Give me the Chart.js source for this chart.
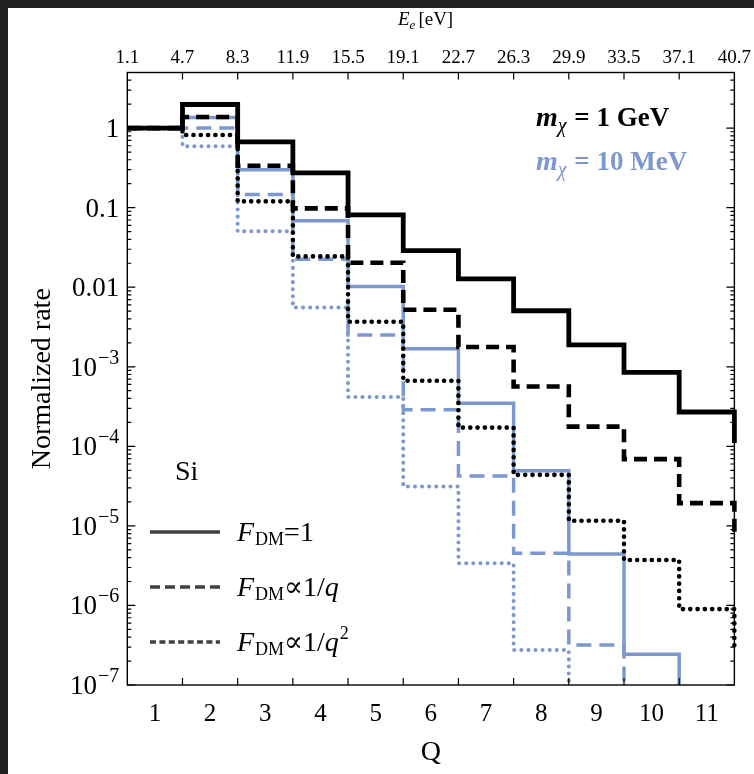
<!DOCTYPE html>
<html>
<head>
<meta charset="utf-8">
<script src="https://cdn.jsdelivr.net/npm/chart.js@4.4.1/dist/chart.umd.min.js"></script>
<style>
  html, body { margin: 0; padding: 0; background: #222; }
  #wrap { position: absolute; left: 8px; top: 8px; width: 746px; height: 766px; background: #fff; }
</style>
</head>
<body>
<div id="wrap"><canvas id="rate" width="746" height="766"></canvas></div>
<script>
// bins Q (the 12th bin lies past the plot, only its drop at the right edge shows)
const qBins = [1, 2, 3, 4, 5, 6, 7, 8, 9, 10, 11, 12];
const energyEdges = ['1.1', '4.7', '8.3', '11.9', '15.5', '19.1', '22.7', '26.3', '29.9', '33.5', '37.1', '40.7'];
const yTickValues = [1, 0.1, 0.01, 1e-3, 1e-4, 1e-5, 1e-6, 1e-7];
const yTickLabels = ['1', '0.1', '0.01', '10^-3', '10^-4', '10^-5', '10^-6', '10^-7'];

// m_chi = 1 GeV
const gevConst = [1, 1.98, 0.67, 0.273, 0.081, 0.0288, 0.0127, 0.00506, 0.00189, 8.5e-4, 2.7e-4, 1.1e-4];
const gevInvQ = [1, 1.38, 0.337, 0.098, 0.0203, 0.00521, 0.00177, 5.65e-4, 1.77e-4, 6.9e-5, 1.93e-5, 7.3e-6];
const gevInvQ2 = [1, 0.82, 0.12, 0.0244, 0.00368, 6.67e-4, 1.72e-4, 4.38e-5, 1.16e-5, 3.73e-6, 9.0e-7, 3.0e-7];
// m_chi = 10 MeV
const mevConst = [1, 1.36, 0.30, 0.0686, 0.0102, 0.00168, 3.49e-4, 4.92e-5, 4.44e-6, 2.43e-7, 2e-8, 1e-9];
const mevInvQ = [1, 1.0, 0.146, 0.0225, 0.0025, 2.88e-4, 4.25e-5, 4.54e-6, 3.18e-7, 2e-8, 1e-9, 5e-11];
const mevInvQ2 = [1, 0.59, 0.0504, 0.00557, 4.16e-4, 3.12e-5, 3.4e-6, 2.75e-7, 2e-8, 1e-9, 5e-11, 2e-12];

const SERIF = '"Liberation Serif", "DejaVu Serif", serif';
const BLUE = 'rgb(125,152,207)';

// each bin starts at its left edge, stepped line runs across to the next edge
function steps(values) {
  return values.map((v, i) => ({ x: qBins[i] - 0.5, y: v }));
}

function series(values, color, width, dash, cap) {
  return {
    data: steps(values),
    borderColor: color,
    borderWidth: width,
    borderDash: dash,
    borderCapStyle: cap,
    borderJoinStyle: 'miter',
    stepped: 'before',
    pointRadius: 0,
    fill: false,
    clip: { left: 0, top: 0, right: 3, bottom: 0 }
  };
}

function rich(ctx, x, y, parts) {
  parts.forEach(p => {
    ctx.font = p.font;
    ctx.fillStyle = p.color || '#000';
    ctx.fillText(p.t, x, y + (p.dy || 0));
    x += ctx.measureText(p.t).width + (p.gap || 0);
  });
}

const frame = {
  id: 'frame',
  afterDatasetsDraw(chart) {
    const { ctx, chartArea: a, scales: { x, y } } = chart;
    ctx.save();
    ctx.strokeStyle = '#000';
    ctx.lineWidth = 1.4;
    ctx.strokeRect(a.left, a.top, a.right - a.left, a.bottom - a.top);
    ctx.lineWidth = 1.2;
    ctx.beginPath();
    qBins.slice(0, 10).forEach(q => {
      const px = x.getPixelForValue(q + 0.5);
      ctx.moveTo(px, a.bottom); ctx.lineTo(px, a.bottom - 7);
      ctx.moveTo(px, a.top); ctx.lineTo(px, a.top + 7);
    });
    for (let e = -7; e <= 0; e++) {
      for (let k = 1; k <= 9; k++) {
        const v = k * Math.pow(10, e);
        if (v > y.max) break;
        const py = y.getPixelForValue(v);
        const len = k === 1 ? 8 : 4;
        ctx.moveTo(a.left, py); ctx.lineTo(a.left + len, py);
        ctx.moveTo(a.right, py); ctx.lineTo(a.right - len, py);
      }
    }
    ctx.stroke();

    // y tick labels with superscripts
    ctx.fillStyle = '#000';
    ctx.textBaseline = 'alphabetic';
    yTickValues.forEach((v, i) => {
      const py = y.getPixelForValue(v);
      const [base, exp] = yTickLabels[i].split('^');
      const baseline = py + 9;
      let right = a.left - 8;
      ctx.textAlign = 'right';
      if (exp) {
        const sup = exp.replace('-', '\u2212');
        ctx.font = `20px ${SERIF}`;
        ctx.fillText(sup, right, baseline - 12);
        right -= ctx.measureText(sup).width + 1;
      }
      ctx.font = `27px ${SERIF}`;
      ctx.fillText(base, right, baseline);
    });

    ctx.textAlign = 'left';
    // top axis title
    rich(ctx, 390, 17, [
      { t: 'E', font: `italic 19px ${SERIF}` },
      { t: 'e', font: `italic 13px ${SERIF}`, dy: 4, gap: 3 },
      { t: '[eV]', font: `19px ${SERIF}` }
    ]);

    // mass labels
    [['1 GeV', '#000', 118], ['10 MeV', BLUE, 162]].forEach(([txt, col, yb]) => {
      rich(ctx, 528, yb, [
        { t: 'm', font: `bold italic 28px ${SERIF}`, color: col },
        { t: '\u03c7', font: `italic 20px ${SERIF}`, color: col, dy: 6, gap: 1 },
        { t: ' = ' + txt, font: `bold 27px ${SERIF}`, color: col }
      ]);
    });

    // material
    ctx.font = `28px ${SERIF}`;
    ctx.fillStyle = '#000';
    ctx.fillText('Si', 167, 472);

    // legend
    const rows = [
      { yl: 524, dash: [], tail: [{ t: '=1', font: `28px ${SERIF}` }] },
      { yl: 579, dash: [10, 5], tail: [{ t: '\u221d1/', font: `28px ${SERIF}` }, { t: 'q', font: `italic 28px ${SERIF}` }] },
      { yl: 634, dash: [6, 3.4], tail: [{ t: '\u221d1/', font: `28px ${SERIF}` }, { t: 'q', font: `italic 28px ${SERIF}`, gap: 1 }, { t: '2', font: `18px ${SERIF}`, dy: -12 }] }
    ];
    rows.forEach(r => {
      ctx.strokeStyle = '#404040';
      ctx.lineWidth = 3.5;
      ctx.setLineDash(r.dash);
      ctx.beginPath();
      ctx.moveTo(142, r.yl); ctx.lineTo(212, r.yl);
      ctx.stroke();
      ctx.setLineDash([]);
      rich(ctx, 229, r.yl + 8.5, [
        { t: 'F', font: `italic 28px ${SERIF}`, gap: 1 },
        { t: 'DM', font: `18px ${SERIF}`, dy: 4 }
      ].concat(r.tail));
    });
    ctx.restore();
  }
};

new Chart(document.getElementById('rate'), {
  type: 'line',
  data: {
    datasets: [
      series(gevConst, '#000', 4.8, [], 'butt'),
      series(gevInvQ, '#000', 4.6, [13, 7], 'butt'),
      series(gevInvQ2, '#000', 4.6, [0.1, 7.2], 'round'),
      series(mevConst, BLUE, 3.5, [], 'butt'),
      series(mevInvQ, BLUE, 3.5, [15, 8], 'butt'),
      series(mevInvQ2, BLUE, 4, [0.1, 7], 'round')
    ]
  },
  options: {
    responsive: false,
    animation: false,
    layout: { padding: { left: 0, top: 0, right: 17.3, bottom: 0 } },
    plugins: { legend: { display: false }, tooltip: { enabled: false } },
    scales: {
      x: {
        type: 'linear', position: 'bottom', min: 0.5, max: 11.5,
        afterBuildTicks: s => { s.ticks = qBins.slice(0, 11).map(v => ({ value: v })); },
        afterFit: s => { s.height = 89; },
        grid: { display: false, drawTicks: false },
        border: { display: false },
        ticks: { font: { family: SERIF, size: 25 }, color: '#000', padding: 14, maxRotation: 0, autoSkip: false },
        title: { display: true, text: 'Q', font: { family: SERIF, size: 28 }, color: '#000', padding: { top: 0, bottom: 5 } }
      },
      x2: {
        type: 'linear', position: 'top', min: 0.5, max: 11.5,
        afterBuildTicks: s => { s.ticks = qBins.map(q => ({ value: q - 0.5 })); },
        afterFit: s => { s.height = 64.5; },
        grid: { display: false, drawTicks: false },
        border: { display: false },
        ticks: {
          font: { family: SERIF, size: 19 }, color: '#000', padding: 3, maxRotation: 0, autoSkip: false,
          callback: (v, i) => energyEdges[i]
        }
      },
      y: {
        type: 'logarithmic', min: 1e-7, max: 5,
        afterFit: s => { s.width = 119.3; },
        grid: { display: false, drawTicks: false },
        border: { display: false },
        ticks: { display: false },
        title: { display: true, text: 'Normalized rate', font: { family: SERIF, size: 28 }, color: '#000', padding: { top: 18, bottom: 0 } }
      }
    }
  },
  plugins: [frame]
});
</script>
</body>
</html>
